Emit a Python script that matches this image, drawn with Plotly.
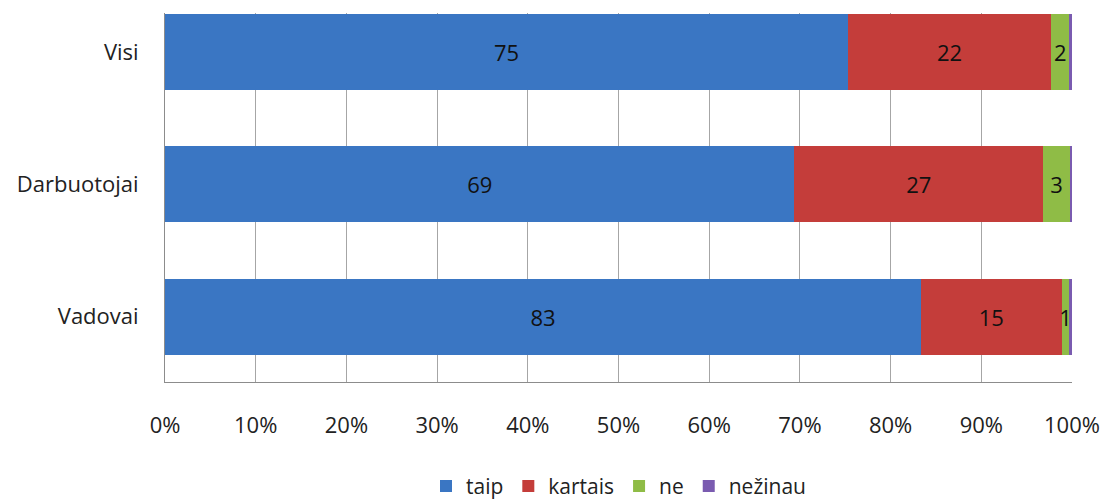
import plotly.graph_objects as go

categories = ["Vadovai", "Darbuotojai", "Visi"]
series_names = ["taip", "kartais", "ne", "nežinau"]
taip = [83.35, 69.4, 75.3]
kartais = [15.5, 27.4, 22.4]
ne = [0.85, 3.0, 2.0]
nezinau = [0.3, 0.2, 0.3]
labels_taip = ["83", "69", "75"]
labels_kartais = ["15", "27", "22"]
labels_ne = ["1", "3", "2"]
x_ticks = [0, 10, 20, 30, 40, 50, 60, 70, 80, 90, 100]
x_tick_labels = [f"{v}%" for v in x_ticks]

colors = ["#3A76C3", "#C43D3A", "#8FBC46", "#7A5BB0"]
values = [taip, kartais, ne, nezinau]
texts = [labels_taip, labels_kartais, labels_ne, [""] * 3]

FONT = "Open Sans"
fig = go.Figure()
ypos = list(range(len(categories)))
for name, vals, txt, col in zip(series_names, values, texts, colors):
    fig.add_trace(go.Bar(
        y=ypos, x=vals, name=name, orientation="h",
        marker=dict(color=col, line=dict(width=0)),
        text=txt, textposition="inside", insidetextanchor="middle",
        textfont=dict(color="#111", size=22, family=FONT),
        width=0.575, cliponaxis=False, hoverinfo="x+name",
        constraintext="none",
    ))

fig.update_layout(
    barmode="stack",
    width=1105, height=504,
    margin=dict(l=165, r=33, t=13, b=122, autoexpand=False),
    plot_bgcolor="white", paper_bgcolor="white",
    font=dict(family=FONT, size=21, color="#222"),
    uniformtext=dict(mode=False),
    legend=dict(orientation="h", x=0.5, xanchor="center", y=0.035, yanchor="middle",
                yref="container",
                font=dict(size=21, family=FONT, color="#222"), itemwidth=30,
                traceorder="normal"),
    showlegend=True,
)
fig.update_xaxes(range=[0, 100], tickvals=x_ticks, ticktext=x_tick_labels,
                 showgrid=True, gridcolor="#A6A6A6", gridwidth=1,
                 showline=True, linecolor="#8C8C8C", linewidth=1,
                 zeroline=False, ticks="", ticklabelstandoff=24, automargin=False,
                 tickfont=dict(size=22, family=FONT, color="#222"))
fig.update_yaxes(range=[-0.495, 2.295], tickvals=ypos, ticktext=categories,
                 showgrid=False, showline=True, linecolor="#8C8C8C", linewidth=1,
                 zeroline=False, ticks="", ticklabelstandoff=21, automargin=False,
                 tickfont=dict(size=22, family=FONT, color="#222"))

fig.write_html("out.html", config={"displayModeBar": False},
               post_script="document.body.style.margin='0';document.body.style.overflow='hidden';")
